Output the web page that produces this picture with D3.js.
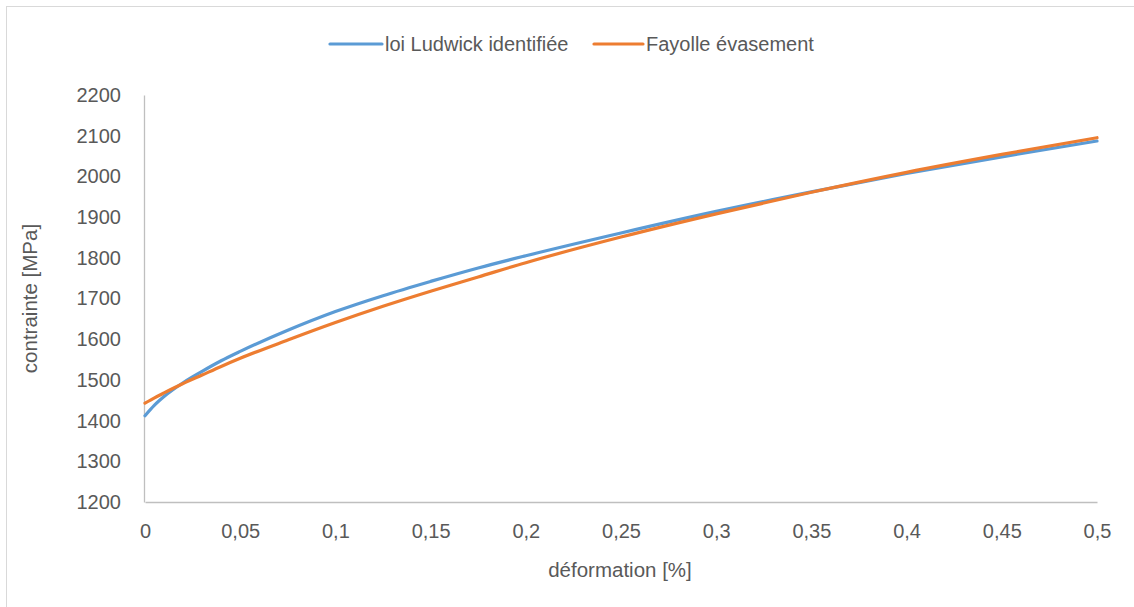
<!DOCTYPE html>
<html>
<head>
<meta charset="utf-8">
<script src="https://cdn.jsdelivr.net/npm/d3@7"></script>
<style>
  html, body { margin: 0; padding: 0; background: #fff; }
  svg { display: block; }
  text { font-family: "Liberation Sans", Arial, sans-serif; fill: #595959; }
</style>
</head>
<body>
<svg id="chart" width="1134" height="607"></svg>
<script>
// ---- data ----
const strain = [0, 0.005, 0.01, 0.02, 0.03, 0.04, 0.05, 0.075, 0.1, 0.125, 0.15, 0.175, 0.2, 0.25, 0.3, 0.35, 0.4, 0.45, 0.5];
const ludwick = [1412, 1438, 1459, 1493, 1521, 1547, 1570, 1622, 1668, 1707, 1742, 1775, 1805, 1861, 1914, 1962, 2007, 2048, 2087];
const fayolle = [1443, 1456, 1468, 1491, 1512, 1533, 1553, 1598, 1641, 1681, 1718, 1753, 1788, 1851, 1908, 1961, 2010, 2054, 2095];
const seriesNames = ["loi Ludwick identifiée", "Fayolle évasement"];
const seriesColors = ["#5B9BD5", "#ED7D31"];
const xTicks = [0, 0.05, 0.1, 0.15, 0.2, 0.25, 0.3, 0.35, 0.4, 0.45, 0.5];
const yTicks = [1200, 1300, 1400, 1500, 1600, 1700, 1800, 1900, 2000, 2100, 2200];
const xTitle = "déformation [%]";
const yTitle = "contrainte [MPa]";

const svg = d3.select("#chart");
const W = 1134, H = 607;
const plot = { left: 145, right: 1097, top: 95, bottom: 502 };
const FS = 20;

// outer chart border
svg.append("rect")
  .attr("x", 6.5).attr("y", 6.5)
  .attr("width", W + 20).attr("height", H + 20)
  .attr("fill", "none").attr("stroke", "#d9d9d9").attr("stroke-width", 1);

const x = d3.scaleLinear().domain([0, 0.5]).range([plot.left, plot.right]);
const y = d3.scaleLinear().domain([1200, 2200]).range([plot.bottom, plot.top]);

const fmt = d => String(d).replace(".", ",");

// x axis
const xAxis = d3.axisBottom(x).tickValues(xTicks).tickFormat(fmt).tickSize(0).tickPadding(22);
const gx = svg.append("g").attr("transform", `translate(0,${plot.bottom})`).call(xAxis);
gx.select(".domain").attr("stroke", "#bfbfbf").attr("stroke-width", 1.3);
gx.selectAll("text").attr("font-size", FS).style("fill", "#595959")
  .attr("font-family", "Liberation Sans, Arial, sans-serif");

// y axis
const yAxis = d3.axisLeft(y).tickValues(yTicks).tickFormat(d3.format("d")).tickSize(0).tickPadding(23);
const gy = svg.append("g").attr("transform", `translate(${plot.left - 1},0)`).call(yAxis);
gy.select(".domain").attr("stroke", "#bfbfbf").attr("stroke-width", 1.3);
gy.selectAll("text").attr("font-size", FS).style("fill", "#595959")
  .attr("font-family", "Liberation Sans, Arial, sans-serif");

// lines
const series = [ludwick, fayolle];
const line = d3.line()
  .x((d, i) => x(strain[i]))
  .y(d => y(d))
  .curve(d3.curveMonotoneX);

series.forEach((vals, k) => {
  svg.append("path")
    .datum(vals)
    .attr("d", line)
    .attr("fill", "none")
    .attr("stroke", seriesColors[k])
    .attr("stroke-width", 3.2)
    .attr("stroke-linecap", "round")
    .attr("stroke-linejoin", "round");
});

// axis titles
svg.append("text")
  .attr("x", 620)
  .attr("y", 577)
  .attr("text-anchor", "middle")
  .attr("font-size", FS + 0.5)
  .text(xTitle);

svg.append("text")
  .attr("transform", `translate(37,${(plot.top + plot.bottom) / 2}) rotate(-90)`)
  .attr("text-anchor", "middle")
  .attr("font-size", FS + 0.5)
  .text(yTitle);

// legend
const legendItems = [
  { x1: 330, x2: 382, tx: 385 },
  { x1: 594, x2: 643, tx: 646 }
];
legendItems.forEach((it, k) => {
  svg.append("line")
    .attr("x1", it.x1).attr("x2", it.x2)
    .attr("y1", 44).attr("y2", 44)
    .attr("stroke", seriesColors[k])
    .attr("stroke-width", 3.2)
    .attr("stroke-linecap", "round");
  svg.append("text")
    .attr("x", it.tx).attr("y", 51)
    .attr("font-size", FS)
    .text(seriesNames[k]);
});
</script>
</body>
</html>
